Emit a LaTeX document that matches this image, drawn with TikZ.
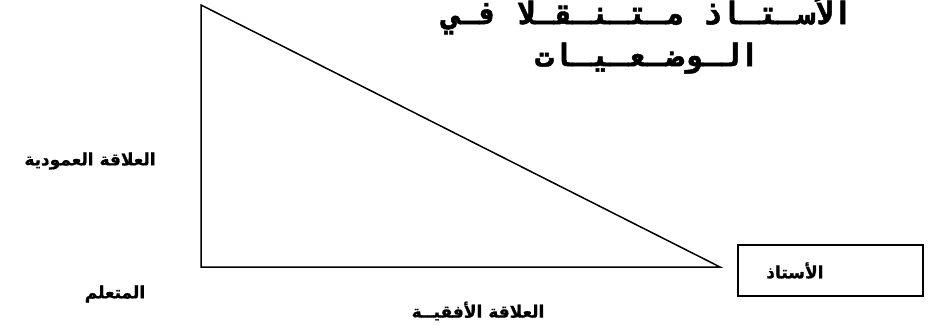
\documentclass[tikz,border=0pt]{standalone}
\usepackage{fontspec}
\usetikzlibrary{positioning}
\TeXXeTstate=1
\newfontfamily\arabicfont[Script=Arabic,BoldFont={DejaVu Sans Bold},BoldFeatures={FakeBold=1}]{DejaVu Sans}
\newfontfamily\arabicmono[Script=Arabic,BoldFont={DejaVu Sans Mono Bold},BoldFeatures={FakeBold=1.5}]{DejaVu Sans Mono}

\begin{document}
\begin{tikzpicture}[
  x=1pt,y=-1pt,
  side/.style={line width=1.5pt,line join=miter},
  tag/.style={font=\arabicfont\bfseries\fontsize{17}{18}\selectfont,inner sep=0pt},
  actor/.style={draw,line width=1.5pt,minimum width=185pt,minimum height=51pt,inner sep=0pt},
  heading/.style={font=\arabicmono\bfseries\fontsize{31}{42}\selectfont,align=center,inner sep=0pt}
]
  \useasboundingbox (0,0) rectangle (928,326);
  % triangle
  \coordinate (top) at (201,5);
  \coordinate (corner) at (201,267);
  \coordinate (tip) at (720,267);
  \draw[side] (top) -- (corner) -- (tip) -- cycle;
  % labels
  \node[tag] (vertical) at (90,161) {\beginR العلاقة العمودية\endR};
  \node[tag] (learner) at (115,294) {\beginR المتعلم\endR};
  \node[tag] (horizontal) at (478,311) {\beginR العلاقة الأفقيــة\endR};
  \node[actor] (teacherbox) at (830.5,270.5) {};
  \node[tag,anchor=east] (teacher) at ([xshift=-100pt]teacherbox.east) {\beginR الأستاذ\endR};
  % title
  \node[heading] (title) at (647,34) {\beginR الأسـتـاذ مـتـنـقـلا فـي\endR\\\beginR الـوضـعـيـات\endR};
\end{tikzpicture}
\end{document}
